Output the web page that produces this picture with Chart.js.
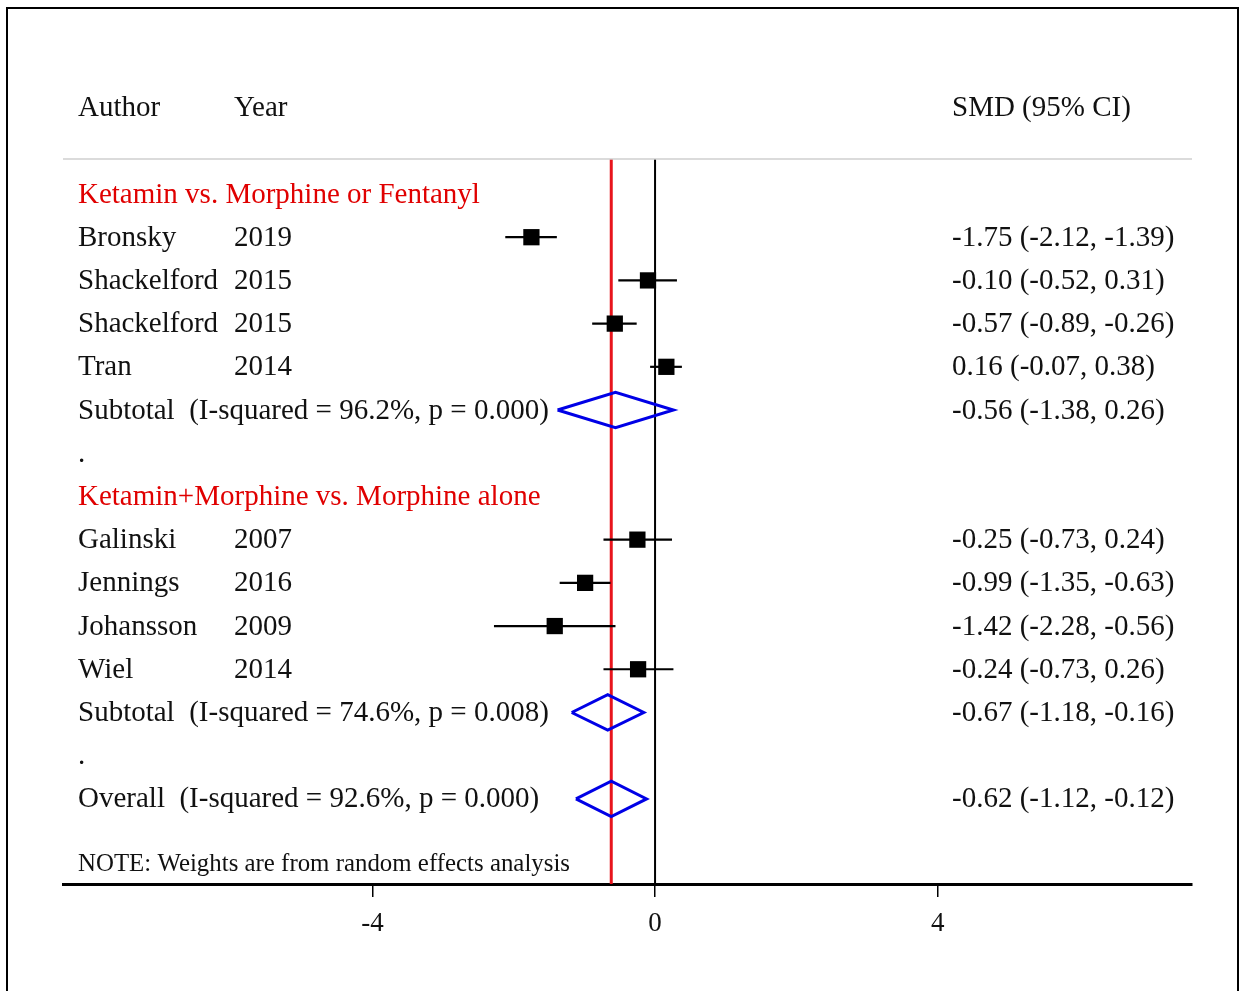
<!DOCTYPE html>
<html>
<head>
<meta charset="utf-8">
<script src="https://cdn.jsdelivr.net/npm/chart.js@4/dist/chart.umd.min.js"></script>
<style>
  body { margin: 0; background: #fff; }
  #wrap { position: relative; width: 1239px; height: 991px; }
  #frame { position: absolute; left: 6px; top: 7px; width: 1229px; height: 1000px; border: 2px solid #000; pointer-events: none; }
</style>
</head>
<body>
<div id="wrap">
  <canvas id="forest" width="1239" height="991"></canvas>
  <div id="frame"></div>
</div>
<script>
// forest plot data
const groupNames = ["Ketamin vs. Morphine or Fentanyl", "Ketamin+Morphine vs. Morphine alone"];
const authors = ["Bronsky", "Shackelford", "Shackelford", "Tran", "Galinski", "Jennings", "Johansson", "Wiel"];
const years = [2019, 2015, 2015, 2014, 2007, 2016, 2009, 2014];
const studyGroup = [0, 0, 0, 0, 1, 1, 1, 1];
const smd = [-1.75, -0.10, -0.57, 0.16, -0.25, -0.99, -1.42, -0.24];
const ciLow = [-2.12, -0.52, -0.89, -0.07, -0.73, -1.35, -2.28, -0.73];
const ciHigh = [-1.39, 0.31, -0.26, 0.38, 0.24, -0.63, -0.56, 0.26];
const subLabels = ["Subtotal  (I-squared = 96.2%, p = 0.000)", "Subtotal  (I-squared = 74.6%, p = 0.008)"];
const subSmd = [-0.56, -0.67];
const subLow = [-1.38, -1.18];
const subHigh = [0.26, -0.16];
const overallLabel = "Overall  (I-squared = 92.6%, p = 0.000)";
const overallSmd = -0.62;
const overallLow = -1.12;
const overallHigh = -0.12;
const xTicks = [-4, 0, 4];

const fmt = (v) => v.toFixed(2);
const ciText = (m, lo, hi) => fmt(m) + " (" + fmt(lo) + ", " + fmt(hi) + ")";

// work out which row everything sits on
const textRows = [];
const studyRow = [];
const subRow = [];
let row = 1;
groupNames.forEach((g, gi) => {
  textRows.push({ row: row, author: g, red: true });
  row++;
  authors.forEach((a, i) => {
    if (studyGroup[i] !== gi) return;
    studyRow[i] = row;
    textRows.push({ row: row, author: a, year: String(years[i]), ci: ciText(smd[i], ciLow[i], ciHigh[i]) });
    row++;
  });
  subRow[gi] = row;
  textRows.push({ row: row, author: subLabels[gi], ci: ciText(subSmd[gi], subLow[gi], subHigh[gi]) });
  row++;
  textRows.push({ row: row, author: "." });
  row++;
});
const overallRow = row;
textRows.push({ row: overallRow, author: overallLabel, ci: ciText(overallSmd, overallLow, overallHigh) });
const noteRow = overallRow + 1.5;

const yMin = 0.19, yMax = 16.97;
const halfH = 0.41;

function diamond(m, lo, hi, r) {
  return [
    { x: lo, y: r }, { x: m, y: r - halfH }, { x: hi, y: r },
    { x: m, y: r + halfH }, { x: lo, y: r }
  ];
}

const datasets = [];
datasets.push({
  data: authors.map((a, i) => ({ x: smd[i], y: studyRow[i] })),
  pointStyle: "rect", pointRadius: 11.5, backgroundColor: "#000", borderColor: "#000", borderWidth: 0,
  order: 0
});
authors.forEach((a, i) => {
  datasets.push({
    data: [{ x: ciLow[i], y: studyRow[i] }, { x: ciHigh[i], y: studyRow[i] }],
    showLine: true, pointRadius: 0, borderColor: "#000", borderWidth: 2.2, order: 1
  });
});
subSmd.forEach((m, gi) => {
  datasets.push({
    data: diamond(m, subLow[gi], subHigh[gi], subRow[gi]),
    showLine: true, pointRadius: 0, borderColor: "#0000e6", borderWidth: 3, order: 2
  });
});
datasets.push({
  data: diamond(overallSmd, overallLow, overallHigh, overallRow),
  showLine: true, pointRadius: 0, borderColor: "#0000e6", borderWidth: 3, order: 2
});
datasets.push({
  data: [{ x: overallSmd, y: yMin }, { x: overallSmd, y: yMax }],
  showLine: true, pointRadius: 0, borderColor: "#e8141c", borderWidth: 3, order: 3
});
datasets.push({
  data: [{ x: 0, y: yMin }, { x: 0, y: yMax }],
  showLine: true, pointRadius: 0, borderColor: "#000", borderWidth: 2, order: 4
});

const textPlugin = {
  id: "forestText",
  afterDraw(chart) {
    const ctx = chart.ctx;
    const area = chart.chartArea;
    const y = chart.scales.y;
    ctx.save();
    // header rule
    ctx.strokeStyle = "#cfcfcf";
    ctx.lineWidth = 1.5;
    ctx.beginPath();
    ctx.moveTo(area.left, area.top);
    ctx.lineTo(area.right, area.top);
    ctx.stroke();

    ctx.font = "29px 'Liberation Serif', serif";
    ctx.textBaseline = "middle";
    ctx.fillStyle = "#111";
    ctx.fillText("Author", 78, 108);
    ctx.fillText("Year", 234, 108);
    ctx.fillText("SMD (95% CI)", 952, 108);

    textRows.forEach((t) => {
      const py = y.getPixelForValue(t.row) + 1;
      ctx.fillStyle = t.red ? "#e00000" : "#111";
      ctx.fillText(t.author, 78, py);
      ctx.fillStyle = "#111";
      if (t.year) ctx.fillText(t.year, 234, py);
      if (t.ci) ctx.fillText(t.ci, 952, py);
    });

    // note is set in a narrow face in the original, squeeze a larger size into the same width
    const note = "NOTE: Weights are from random effects analysis";
    ctx.font = "26px 'Liberation Serif', serif";
    const w = ctx.measureText(note).width;
    ctx.translate(78, y.getPixelForValue(noteRow));
    ctx.scale(492 / w, 1);
    ctx.fillText(note, 0, 0);
    ctx.restore();
  }
};

new Chart(document.getElementById("forest"), {
  type: "scatter",
  data: { datasets: datasets },
  options: {
    responsive: false,
    animation: false,
    devicePixelRatio: 1,
    layout: { padding: { left: 63, right: 47, top: 159, bottom: 47 } },
    plugins: { legend: { display: false }, tooltip: { enabled: false } },
    scales: {
      x: {
        type: "linear",
        min: -8.38,
        max: 7.6,
        afterBuildTicks: (axis) => { axis.ticks = xTicks.map((v) => ({ value: v })); },
        afterFit: (axis) => { axis.height = 60; },
        grid: { drawOnChartArea: false, drawTicks: true, tickLength: 13, color: "#000", lineWidth: 1.5 },
        border: { color: "#000", width: 3 },
        ticks: { color: "#111", font: { family: "'Liberation Serif', serif", size: 27 }, padding: 11 }
      },
      y: { type: "linear", reverse: true, min: yMin, max: yMax, display: false }
    }
  },
  plugins: [textPlugin]
});
</script>
</body>
</html>
